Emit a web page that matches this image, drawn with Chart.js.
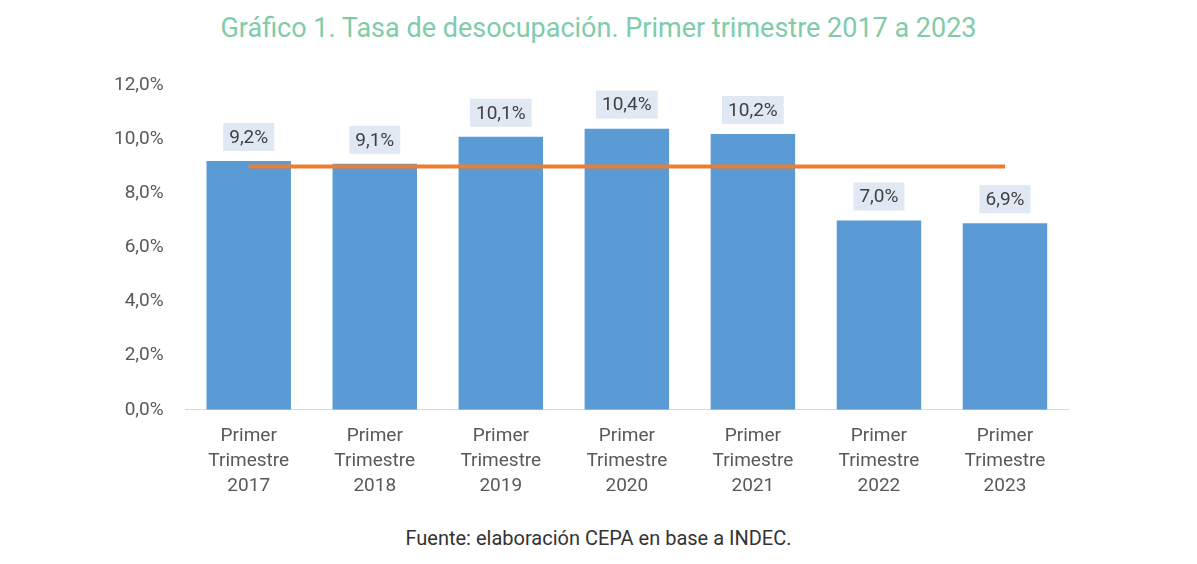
<!DOCTYPE html>
<html>
<head>
<meta charset="utf-8">
<script src="https://cdn.jsdelivr.net/npm/chart.js@4/dist/chart.umd.min.js"></script>
<style>
  body { margin: 0; background: #fff; font-family: Roboto, sans-serif; }
  #wrap { position: relative; width: 1197px; height: 564px; }
  h1 { position: absolute; top: 12px; left: 0; width: 1197px; margin: 0; text-align: center;
       font-weight: normal; font-size: 27px; color: #7fcca9; }
  #box { position: absolute; left: 100px; top: 60px; width: 978px; height: 445px; }
  .src { position: absolute; top: 526px; left: 0; width: 1197px; text-align: center;
         font-size: 20px; color: #333; }
</style>
</head>
<body>
<div id="wrap">
  <h1>Gráfico 1. Tasa de desocupación. Primer trimestre 2017 a 2023</h1>
  <div id="box"><canvas id="chart"></canvas></div>
  <div class="src">Fuente: elaboración CEPA en base a INDEC.</div>
</div>
<script>
// values
var categories = [
  ['Primer', 'Trimestre', '2017'],
  ['Primer', 'Trimestre', '2018'],
  ['Primer', 'Trimestre', '2019'],
  ['Primer', 'Trimestre', '2020'],
  ['Primer', 'Trimestre', '2021'],
  ['Primer', 'Trimestre', '2022'],
  ['Primer', 'Trimestre', '2023']
];
var tasa = [9.2, 9.1, 10.1, 10.4, 10.2, 7.0, 6.9];
var promedio = [9.0, 9.0, 9.0, 9.0, 9.0, 9.0, 9.0];

function pct(v) { return v.toFixed(1).replace('.', ',') + '%'; }

// value labels on a light blue box, above each bar (dataset 1)
var boxLabels = {
  id: 'boxLabels',
  afterDatasetsDraw: function (chart) {
    var ctx = chart.ctx, meta = chart.getDatasetMeta(1);
    ctx.save();
    ctx.font = '19px Roboto';
    ctx.textAlign = 'center';
    ctx.textBaseline = 'middle';
    meta.data.forEach(function (bar, i) {
      var txt = pct(tasa[i]);
      var w = ctx.measureText(txt).width + 12, h = 28;
      var cy = bar.y - 24;
      ctx.fillStyle = '#dfe8f3';
      ctx.fillRect(bar.x - w / 2, cy - h / 2, w, h);
      ctx.fillStyle = '#404040';
      ctx.fillText(txt, bar.x, cy + 1);
    });
    ctx.restore();
  }
};

new Chart(document.getElementById('chart'), {
  data: {
    labels: categories,
    datasets: [
      { type: 'line', data: promedio, borderColor: '#ed7d31', borderWidth: 4,
        pointRadius: 0, order: 0 },
      { type: 'bar', data: tasa, backgroundColor: '#5b9bd5',
        categoryPercentage: 1, barPercentage: 0.67, order: 1 }
    ]
  },
  options: {
    responsive: true,
    maintainAspectRatio: false,
    animation: false,
    layout: { padding: { top: 8, right: 10 } },
    plugins: { legend: { display: false }, tooltip: { enabled: false } },
    scales: {
      x: {
        grid: { display: false },
        border: { color: '#d9d9d9' },
        ticks: { color: '#595959', padding: 6,
                 font: { family: 'Roboto', size: 19, lineHeight: 1.32 } }
      },
      y: {
        min: 0, max: 12,
        ticks: { stepSize: 2, color: '#595959', padding: 14,
                 font: { family: 'Roboto', size: 19 },
                 callback: function (v) { return pct(v); } },
        grid: { display: false },
        border: { display: false }
      }
    }
  },
  plugins: [boxLabels]
});
</script>
</body>
</html>
